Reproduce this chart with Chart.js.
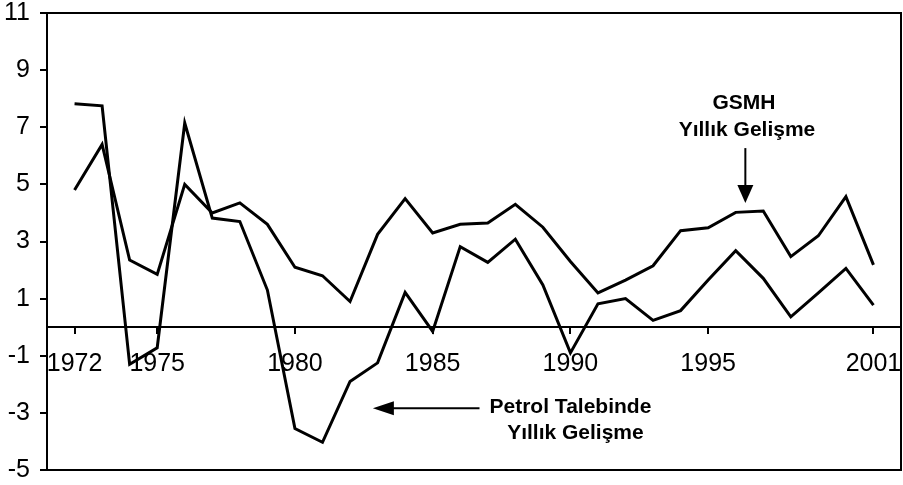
<!DOCTYPE html>
<html>
<head>
<meta charset="utf-8">
<script src="https://cdn.jsdelivr.net/npm/chart.js@4.4.1/dist/chart.umd.min.js"></script>
<style>
html, body { margin: 0; padding: 0; background: #fff; }
</style>
</head>
<body>
<canvas id="myChart" width="903" height="485"></canvas>
<script>
var years = [1972, 1973, 1974, 1975, 1976, 1977, 1978, 1979, 1980, 1981,
             1982, 1983, 1984, 1985, 1986, 1987, 1988, 1989, 1990, 1991,
             1992, 1993, 1994, 1995, 1996, 1997, 1998, 1999, 2000, 2001];
// GSMH yillik gelisme
var gsmh = [4.8, 6.4, 2.35, 1.85, 5.0, 4.0, 4.35, 3.6, 2.1, 1.8,
            0.9, 3.25, 4.5, 3.3, 3.6, 3.65, 4.3, 3.5, 2.3, 1.2,
            1.65, 2.15, 3.38, 3.48, 4.02, 4.07, 2.47, 3.2, 4.57, 2.18];
// Petrol talebinde yillik gelisme
var petrol = [7.82, 7.75, -1.3, -0.72, 7.15, 3.82, 3.7, 1.3, -3.55, -4.03,
              -1.9, -1.25, 1.22, -0.15, 2.82, 2.27, 3.08, 1.48, -0.9, 0.82,
              1.0, 0.24, 0.58, 1.65, 2.68, 1.71, 0.36, 1.2, 2.06, 0.77];
var yearTicks = [1972, 1975, 1980, 1985, 1990, 1995, 2001];
var valueTicks = [-5, -3, -1, 1, 3, 5, 7, 9, 11];

function toPoints(arr) {
    return arr.map(function (v, i) { return { x: years[i], y: v }; });
}

var frameAndNotes = {
    id: 'frameAndNotes',
    afterDraw: function (chart) {
        var ctx = chart.ctx;
        var a = chart.chartArea;
        var xs = chart.scales.x, ys = chart.scales.y;
        ctx.save();
        ctx.strokeStyle = '#000';
        ctx.lineWidth = 2;
        ctx.strokeRect(a.left, a.top, a.right - a.left, a.bottom - a.top);

        ctx.fillStyle = '#000';
        ctx.font = 'bold 21px "Liberation Sans", Arial, sans-serif';
        ctx.textAlign = 'center';
        ctx.textBaseline = 'middle';

        // GSMH label + down arrow
        var gx = xs.getPixelForValue(1996.3);
        ctx.fillText('GSMH', gx, ys.getPixelForValue(7.85));
        ctx.fillText('Yıllık Gelişme', gx + 3, ys.getPixelForValue(6.9));
        var ax = xs.getPixelForValue(1996.35);
        var top = ys.getPixelForValue(6.27), tip = ys.getPixelForValue(4.35);
        ctx.beginPath();
        ctx.moveTo(ax, top);
        ctx.lineTo(ax, tip - 12);
        ctx.stroke();
        ctx.beginPath();
        ctx.moveTo(ax - 8, tip - 18);
        ctx.lineTo(ax + 8, tip - 18);
        ctx.lineTo(ax, tip);
        ctx.closePath();
        ctx.fill();

        // Petrol label + left arrow
        var px = xs.getPixelForValue(1990);
        ctx.fillText('Petrol Talebinde', px, ys.getPixelForValue(-2.8));
        ctx.fillText('Yıllık Gelişme', px + 5, ys.getPixelForValue(-3.7));
        var ay = ys.getPixelForValue(-2.84);
        var x0 = xs.getPixelForValue(1986.7), x1 = xs.getPixelForValue(1982.83);
        ctx.beginPath();
        ctx.moveTo(x0, ay);
        ctx.lineTo(x1 + 14, ay);
        ctx.stroke();
        ctx.beginPath();
        ctx.moveTo(x1 + 21, ay - 7);
        ctx.lineTo(x1 + 21, ay + 7);
        ctx.lineTo(x1, ay);
        ctx.closePath();
        ctx.fill();
        ctx.restore();
    }
};

var tickFont = { family: '"Liberation Sans", Arial, sans-serif', size: 25 };

var ctx = document.getElementById('myChart').getContext('2d');
var myChart = new Chart(ctx, {
    type: 'line',
    data: {
        datasets: [{
            label: 'GSMH Yıllık Gelişme',
            data: toPoints(gsmh),
            borderColor: '#000',
            borderWidth: 3,
            borderJoinStyle: 'miter',
            pointRadius: 0,
            tension: 0,
            fill: false
        }, {
            label: 'Petrol Talebinde Yıllık Gelişme',
            data: toPoints(petrol),
            borderColor: '#000',
            borderWidth: 3,
            borderJoinStyle: 'miter',
            pointRadius: 0,
            tension: 0,
            fill: false
        }]
    },
    options: {
        responsive: false,
        animation: false,
        layout: { padding: { top: 13, right: 2, bottom: 15, left: 0 } },
        plugins: {
            legend: { display: false },
            tooltip: { enabled: false }
        },
        scales: {
            x: {
                type: 'linear',
                min: 1971,
                max: 2002,
                position: { y: 0 },
                afterBuildTicks: function (s) {
                    s.ticks = yearTicks.map(function (v) { return { value: v }; });
                },
                afterFit: function (s) {
                    s.height = 0;
                    s.paddingLeft = 0;
                    s.paddingRight = 0;
                },
                ticks: {
                    autoSkip: false,
                    maxRotation: 0,
                    padding: 16,
                    color: '#000',
                    font: tickFont,
                    callback: function (v) { return String(v); }
                },
                grid: { drawOnChartArea: false, drawTicks: true, tickLength: 6, color: '#000', lineWidth: 2 },
                border: { display: true, color: '#000', width: 2 }
            },
            y: {
                type: 'linear',
                min: -5,
                max: 11,
                afterBuildTicks: function (s) {
                    s.ticks = valueTicks.map(function (v) { return { value: v }; });
                },
                afterFit: function (s) {
                    s.width = 47;
                    s.paddingTop = 0;
                    s.paddingBottom = 0;
                },
                ticks: {
                    padding: 10,
                    color: '#000',
                    font: tickFont
                },
                grid: { drawOnChartArea: false, drawTicks: true, tickLength: 7, color: '#000', lineWidth: 2 },
                border: { display: true, color: '#000', width: 2 }
            }
        }
    },
    plugins: [frameAndNotes]
});
</script>
</body>
</html>
